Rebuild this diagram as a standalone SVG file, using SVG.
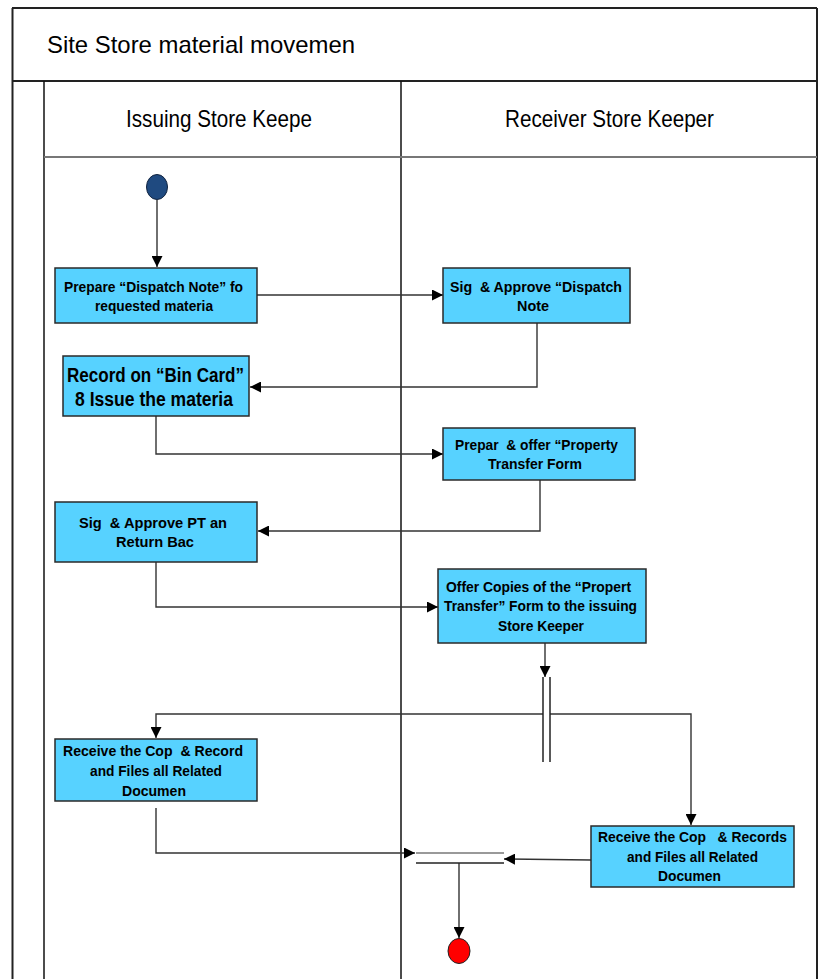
<svg xmlns="http://www.w3.org/2000/svg" width="822" height="979" viewBox="0 0 822 979">
  <style>
    .frame { fill: none; stroke: #222; stroke-width: 2; }
    .lane { fill: none; stroke: #111; stroke-width: 1.5; }
    .sep { fill: none; stroke: #777; stroke-width: 2; }
    .title { font-family: "Liberation Sans", Arial, sans-serif; font-size: 24px; fill: #000; }
    .box { fill: #57D2FF; stroke: #2a2a2a; stroke-width: 1.5; }
    .lbl { font-family: "Liberation Sans", Arial, sans-serif; font-weight: bold; font-size: 15.5px; fill: #000; white-space: pre; }
    .big { font-size: 20px; }
    .conn { fill: none; stroke: #333; stroke-width: 1.4; }
    .bar { fill: none; stroke: #222; stroke-width: 1.5; }
  </style>
  <defs>
    <marker id="arrow" viewBox="0 0 10 10" refX="10" refY="5" markerWidth="11" markerHeight="11" markerUnits="userSpaceOnUse" orient="auto">
      <path d="M0,0 L10,5 L0,10 Z" fill="#000"/>
    </marker>
  </defs>

  <rect width="822" height="979" fill="#fff"/>

  <!-- pool frame and swimlanes -->
  <g id="pool">
    <line class="frame" x1="12.5" y1="8" x2="12.5" y2="979"/>
    <line class="frame" x1="12" y1="8" x2="817" y2="8"/>
    <line class="frame" x1="817" y1="8" x2="817" y2="979"/>
    <line class="frame" x1="12" y1="81" x2="817" y2="81"/>
    <line class="lane" x1="44" y1="81" x2="44" y2="979"/>
    <line class="lane" x1="401" y1="81" x2="401" y2="979"/>
    <line class="sep" x1="44" y1="157" x2="817" y2="157"/>
    <text class="title" x="47" y="53" textLength="308" lengthAdjust="spacingAndGlyphs">Site Store material movemen</text>
    <text class="title" x="126" y="127" textLength="186" lengthAdjust="spacingAndGlyphs">Issuing Store Keepe</text>
    <text class="title" x="505" y="127" textLength="209" lengthAdjust="spacingAndGlyphs">Receiver Store Keeper</text>
  </g>

  <!-- connectors -->
  <g id="connectors">
    <line class="conn" x1="157" y1="200" x2="157" y2="267" marker-end="url(#arrow)"/>
    <line class="conn" x1="257" y1="295" x2="443" y2="295" marker-end="url(#arrow)"/>
    <polyline class="conn" points="537,323 537,387 250,387" marker-end="url(#arrow)"/>
    <polyline class="conn" points="156,416 156,454 443,454" marker-end="url(#arrow)"/>
    <polyline class="conn" points="540,480 540,531 258,531" marker-end="url(#arrow)"/>
    <polyline class="conn" points="156,562 156,607 438,607" marker-end="url(#arrow)"/>
    <line class="conn" x1="545" y1="643" x2="545" y2="677" marker-end="url(#arrow)"/>
    <polyline class="conn" points="543,714 156,714 156,738" marker-end="url(#arrow)"/>
    <polyline class="conn" points="550,714 691,714 691,825" marker-end="url(#arrow)"/>
    <polyline class="conn" points="156,808 156,853 415,853" marker-end="url(#arrow)"/>
    <line class="conn" x1="591" y1="860" x2="504" y2="859" marker-end="url(#arrow)"/>
    <line class="conn" x1="459" y1="863" x2="459" y2="938" marker-end="url(#arrow)"/>
  </g>

  <g id="start">
    <ellipse cx="157" cy="187" rx="10.5" ry="12.5" fill="#1F4A80" stroke="#10233f" stroke-width="1"/>
  </g>

  <g id="prepare-dispatch">
    <rect class="box" x="55" y="268" width="202" height="55"/>
    <text class="lbl" x="64" y="292" textLength="179" lengthAdjust="spacingAndGlyphs">Prepare “Dispatch Note” fo</text>
    <text class="lbl" x="95" y="311" textLength="118" lengthAdjust="spacingAndGlyphs">requested materia</text>
  </g>

  <g id="sign-dispatch">
    <rect class="box" x="443" y="268" width="187" height="55"/>
    <text class="lbl" x="450" y="292" textLength="172" lengthAdjust="spacingAndGlyphs">Sig  &amp; Approve “Dispatch</text>
    <text class="lbl" x="517" y="311" textLength="32" lengthAdjust="spacingAndGlyphs">Note</text>
  </g>

  <g id="bin-card">
    <rect class="box" x="63" y="356" width="186" height="60"/>
    <text class="lbl big" x="67" y="382" textLength="177" lengthAdjust="spacingAndGlyphs">Record on “Bin Card”</text>
    <text class="lbl big" x="75" y="406" textLength="158" lengthAdjust="spacingAndGlyphs">8 Issue the materia</text>
  </g>

  <g id="property-form">
    <rect class="box" x="443" y="428" width="192" height="52"/>
    <text class="lbl" x="455" y="450" textLength="163" lengthAdjust="spacingAndGlyphs">Prepar  &amp; offer “Property</text>
    <text class="lbl" x="488" y="469" textLength="94" lengthAdjust="spacingAndGlyphs">Transfer Form</text>
  </g>

  <g id="sign-pt">
    <rect class="box" x="55" y="502" width="202" height="60"/>
    <text class="lbl" x="79" y="528" textLength="148" lengthAdjust="spacingAndGlyphs">Sig  &amp; Approve PT an</text>
    <text class="lbl" x="116" y="547" textLength="78" lengthAdjust="spacingAndGlyphs">Return Bac</text>
  </g>

  <g id="offer-copies">
    <rect class="box" x="438" y="569" width="208" height="74"/>
    <text class="lbl" x="446" y="592" textLength="185" lengthAdjust="spacingAndGlyphs">Offer Copies of the “Propert</text>
    <text class="lbl" x="444" y="611" textLength="193" lengthAdjust="spacingAndGlyphs">Transfer” Form to the issuing</text>
    <text class="lbl" x="498" y="631" textLength="86" lengthAdjust="spacingAndGlyphs">Store Keeper</text>
  </g>

  <g id="fork">
    <line class="bar" x1="543" y1="677" x2="543" y2="762"/>
    <line class="bar" x1="550" y1="677" x2="550" y2="762"/>
  </g>

  <g id="receive-left">
    <rect class="box" x="55" y="739" width="202" height="62"/>
    <text class="lbl" x="63" y="756" textLength="180" lengthAdjust="spacingAndGlyphs">Receive the Cop  &amp; Record</text>
    <text class="lbl" x="90" y="776" textLength="132" lengthAdjust="spacingAndGlyphs">and Files all Related</text>
    <text class="lbl" x="122" y="796" textLength="64" lengthAdjust="spacingAndGlyphs">Documen</text>
  </g>

  <g id="receive-right">
    <rect class="box" x="591" y="826" width="203" height="61"/>
    <text class="lbl" x="598" y="842" textLength="189" lengthAdjust="spacingAndGlyphs">Receive the Cop   &amp; Records</text>
    <text class="lbl" x="627" y="862" textLength="131" lengthAdjust="spacingAndGlyphs">and Files all Related</text>
    <text class="lbl" x="658" y="881" textLength="63" lengthAdjust="spacingAndGlyphs">Documen</text>
  </g>

  <g id="join">
    <line x1="416" y1="853" x2="504" y2="853" stroke="#777" stroke-width="1.5"/>
    <line x1="416" y1="863" x2="504" y2="863" stroke="#222" stroke-width="1.5"/>
  </g>

  <g id="end">
    <ellipse cx="459" cy="951" rx="11" ry="12.5" fill="#FF0000" stroke="#222" stroke-width="1"/>
  </g>
</svg>
